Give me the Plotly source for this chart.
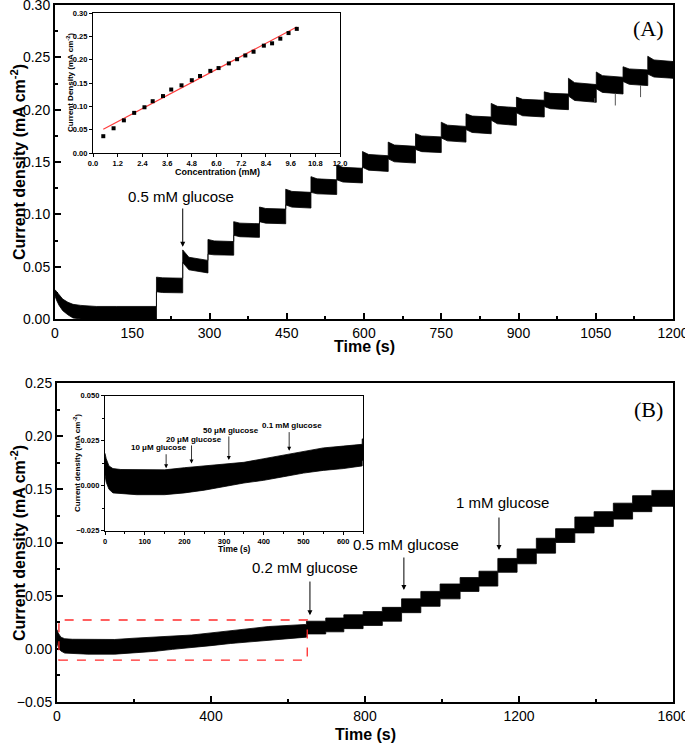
import numpy as np
import plotly.graph_objects as go

W, H = 685, 743
FONT = "Liberation Sans, Arial, sans-serif"

# ---------------- Panel A data ----------------
A0_t = [0, 3, 8, 15, 25, 35, 50, 80, 120, 160, 197]
A0_top = [0.028, 0.026, 0.023, 0.019, 0.016, 0.014, 0.013, 0.012, 0.012, 0.012, 0.012]
A0_bot = [0.022, 0.018, 0.013, 0.008, 0.004, 0.001, 0.0, 0.0, 0.0, 0.0, 0.0]

A_step_t = [197, 248, 297, 347, 397, 448, 497, 547, 597, 647,
            700, 750, 798, 847, 896, 950, 997, 1051, 1103, 1151]
A_top_start = [0.040, 0.066, 0.076, 0.093, 0.107, 0.124, 0.136, 0.147, 0.160, 0.169,
               0.177, 0.188, 0.196, 0.206, 0.212, 0.217, 0.230, 0.236, 0.241, 0.251]
A_top_end = [0.039, 0.056, 0.074, 0.091, 0.105, 0.121, 0.133, 0.144, 0.156, 0.165,
             0.174, 0.184, 0.193, 0.202, 0.209, 0.215, 0.224, 0.231, 0.238, 0.246]
A_bot_start = [0.026, 0.054, 0.062, 0.080, 0.093, 0.109, 0.121, 0.133, 0.145, 0.153,
               0.162, 0.173, 0.181, 0.190, 0.197, 0.203, 0.213, 0.220, 0.227, 0.234]
A_bot_end = [0.025, 0.044, 0.061, 0.078, 0.091, 0.106, 0.119, 0.130, 0.141, 0.149,
             0.159, 0.169, 0.177, 0.185, 0.193, 0.200, 0.207, 0.215, 0.223, 0.230]
A_spike_t = [1048, 1088, 1137]
A_spike_v = [0.211, 0.204, 0.212]
A_END = 1200

# Inset A: calibration points
conc = [0.5, 1.0, 1.5, 2.0, 2.5, 2.9, 3.4, 3.8, 4.3, 4.8, 5.2,
        5.7, 6.1, 6.6, 7.0, 7.4, 7.8, 8.3, 8.7, 9.1, 9.5, 9.9]
conc_j = [0.036, 0.053, 0.070, 0.086, 0.098, 0.111, 0.122, 0.136, 0.145, 0.156, 0.165,
          0.176, 0.182, 0.192, 0.201, 0.209, 0.217, 0.230, 0.235, 0.245, 0.257, 0.266]
FIT_SLOPE = 0.0233
FIT_INTERCEPT = 0.0393
FIT_X = [0.5, 9.9]

# ---------------- Panel B data ----------------
B0_t = [0, 3, 10, 20, 40, 80, 150, 200, 250, 300, 350, 400, 450, 500, 550, 600, 648]
B0_top = [0.018, 0.015, 0.011, 0.0095, 0.009, 0.0088, 0.0088, 0.010, 0.011, 0.012,
          0.013, 0.015, 0.017, 0.019, 0.021, 0.022, 0.023]
B0_bot = [0.006, 0.002, -0.002, -0.004, -0.0045, -0.005, -0.005, -0.004, -0.0025, -0.0005,
          0.0015, 0.003, 0.005, 0.007, 0.0085, 0.0095, 0.011]
B_step_t = [648, 698, 745, 795, 845, 895, 945, 995, 1047, 1096,
            1145, 1195, 1245, 1295, 1345, 1395, 1445, 1495, 1545]
B_top = [0.026, 0.029, 0.032, 0.035, 0.039, 0.047, 0.054, 0.061, 0.067, 0.073,
         0.085, 0.094, 0.104, 0.113, 0.124, 0.129, 0.137, 0.144, 0.149]
B_bot = [0.014, 0.016, 0.019, 0.022, 0.026, 0.034, 0.040, 0.047, 0.054, 0.059,
         0.072, 0.080, 0.090, 0.100, 0.109, 0.115, 0.122, 0.129, 0.134]
B_END = 1600

DECAY_S = 12  # seconds over which the overshoot after each addition relaxes


def envelope(t0, top0, bot0, st, tops, tope, bots, bote, tend):
    ux, uy = list(t0), list(top0)
    lx, ly = list(t0), list(bot0)
    for i, t in enumerate(st):
        t1 = st[i + 1] if i + 1 < len(st) else tend
        if tops[i] != tope[i]:
            tm = t + DECAY_S
            ux += [t, tm, t1]
            uy += [tops[i], tope[i] + 0.3 * (tops[i] - tope[i]), tope[i]]
            lx += [t, tm, t1]
            ly += [bots[i], bote[i] + 0.3 * (bots[i] - bote[i]), bote[i]]
        else:
            ux += [t, t1]
            uy += [tops[i], tope[i]]
            lx += [t, t1]
            ly += [bots[i], bote[i]]
    return ux, uy, lx, ly


def px_x(p):
    return p / W


def px_y(p):
    return 1 - p / H


fig = go.Figure()

# Panel A band
ux, uy, lx, ly = envelope(A0_t, A0_top, A0_bot, A_step_t, A_top_start, A_top_end,
                          A_bot_start, A_bot_end, A_END)
fig.add_trace(go.Scatter(x=ux + lx[::-1], y=uy + ly[::-1], fill="toself",
                         fillcolor="black", mode="lines", line=dict(color="black", width=0.8),
                         xaxis="x", yaxis="y", hoverinfo="skip", showlegend=False))
for t, v in zip(A_spike_t, A_spike_v):
    b = float(np.interp(t, lx, ly))
    fig.add_trace(go.Scatter(x=[t, t], y=[b, v], mode="lines",
                             line=dict(color="#555555", width=1), xaxis="x", yaxis="y",
                             hoverinfo="skip", showlegend=False))

# Inset A
fig.add_trace(go.Scatter(x=FIT_X, y=[FIT_SLOPE * c + FIT_INTERCEPT for c in FIT_X],
                         mode="lines", line=dict(color="#ff3b3b", width=1.2),
                         xaxis="x2", yaxis="y2", showlegend=False))
fig.add_trace(go.Scatter(x=conc, y=conc_j, mode="markers",
                         marker=dict(symbol="square", size=4, color="black"),
                         xaxis="x2", yaxis="y2", showlegend=False))

# Panel B band (main and inset)
ux, uy, lx, ly = envelope(B0_t, B0_top, B0_bot, B_step_t, B_top, B_top, B_bot, B_bot, B_END)
for xa, ya in (("x3", "y3"), ("x4", "y4")):
    fig.add_trace(go.Scatter(x=ux + lx[::-1], y=uy + ly[::-1], fill="toself",
                             fillcolor="black", mode="lines", line=dict(color="black", width=0.8),
                             xaxis=xa, yaxis=ya, hoverinfo="skip", showlegend=False))

main_axis = dict(showline=True, linewidth=2, linecolor="black", mirror=True, ticks="inside",
                 ticklen=6, tickwidth=1.5, tickcolor="black", showgrid=False, zeroline=False,
                 automargin=False, ticklabeloverflow="allow",
                 tickfont=dict(family=FONT, size=14, color="black"))
inset_axis = dict(showline=True, linewidth=1.2, linecolor="black", mirror=True, ticks="outside",
                  ticklen=3, tickwidth=1, tickcolor="black", showgrid=False, zeroline=False,
                  automargin=False, ticklabeloverflow="allow",
                  tickfont=dict(family=FONT, size=7.5, color="black", weight="bold"))

fig.update_layout(
    template="none",
    width=W, height=H, margin=dict(l=0, r=0, t=0, b=0, autoexpand=False),
    paper_bgcolor="white", plot_bgcolor="white", showlegend=False,
    xaxis=dict(main_axis, domain=[px_x(55), px_x(673)], range=[0, 1200], dtick=150,
               minor=dict(dtick=75, ticks="inside", ticklen=3, tickcolor="black"),
               anchor="y"),
    yaxis=dict(main_axis, domain=[px_y(319), px_y(5)], range=[0, 0.30], dtick=0.05,
               tickformat=".2f",
               minor=dict(dtick=0.025, ticks="inside", ticklen=3, tickcolor="black"),
               anchor="x"),
    xaxis2=dict(inset_axis, domain=[px_x(93), px_x(340)], range=[0, 12], dtick=1.2,
                tickformat=".1f", anchor="y2"),
    yaxis2=dict(inset_axis, domain=[px_y(153), px_y(13)], range=[0, 0.30], dtick=0.05,
                tickformat=".2f", anchor="x2"),
    xaxis3=dict(main_axis, domain=[px_x(57), px_x(673)], range=[0, 1600], dtick=400,
                minor=dict(dtick=200, ticks="inside", ticklen=3, tickcolor="black"),
                anchor="y3"),
    yaxis3=dict(main_axis, domain=[px_y(702), px_y(383)], range=[-0.05, 0.25], dtick=0.05,
                tickformat=".2f",
                minor=dict(dtick=0.025, ticks="inside", ticklen=3, tickcolor="black"),
                anchor="x3"),
    xaxis4=dict(inset_axis, domain=[px_x(105), px_x(363)], range=[0, 650], dtick=100,
                minor=dict(dtick=50, ticks="outside", ticklen=2, tickcolor="black"),
                anchor="y4"),
    yaxis4=dict(inset_axis, domain=[px_y(530.7), px_y(395.7)], range=[-0.025, 0.050],
                dtick=0.025, tickformat=".3f",
                minor=dict(dtick=0.0125, ticks="outside", ticklen=2, tickcolor="black"),
                anchor="x4"),
)

# Red dashed box in B
fig.add_shape(type="rect", xref="x3", yref="y3", x0=5, x1=650, y0=-0.0106, y1=0.0271,
              line=dict(color="#ff2a2a", width=1.3, dash="dash"))

ann = []


def ptext(text, x, y, size, bold=True, angle=0, family=FONT):
    ann.append(dict(text=text, x=px_x(x), y=px_y(y), xref="paper", yref="paper",
                    showarrow=False, textangle=angle, xanchor="center", yanchor="middle",
                    font=dict(family=family, size=size, color="black",
                              weight="bold" if bold else "normal")))


YT = "Current density (mA cm<sup>-2</sup>)"
ptext(YT, 18, 162, 16, angle=-90)
ptext(YT, 18, 543, 16, angle=-90)
ptext("Time (s)", 364, 347, 16)
ptext("Time (s)", 365, 734, 16)
ptext("(A)", 648, 29, 22, bold=False, family="Liberation Serif, Times New Roman, serif")
ptext("(B)", 648, 409, 22, bold=False, family="Liberation Serif, Times New Roman, serif")
# inset titles
ptext("Current Density (mA cm<sup>-2</sup>)", 70, 83, 8, angle=-90)
ptext("Concentration (mM)", 217, 172, 9)
ptext("Current density (mA cm<sup>-2</sup>)", 77, 463, 8, angle=-90)
ptext("Time (s)", 234, 549, 8.5)


def arrow(xr, yr, t, tip, tail, width=1.0):
    ann.append(dict(x=t, y=tip, ax=t, ay=tail, xref=xr, yref=yr, axref=xr, ayref=yr,
                    text="", showarrow=True, arrowhead=2, arrowsize=1, arrowwidth=width,
                    arrowcolor="black"))


def dtext(xr, yr, text, t, v, size, bold=False):
    ann.append(dict(x=t, y=v, xref=xr, yref=yr, text=text, showarrow=False,
                    xanchor="center", yanchor="middle",
                    font=dict(family=FONT, size=size, color="black",
                              weight="bold" if bold else "normal")))


# Panel A annotation
dtext("x", "y", "0.5 mM glucose", 245, 0.1175, 15)
arrow("x", "y", 248, 0.069, 0.107)

# Panel B annotations
dtext("x3", "y3", "0.2 mM glucose", 644, 0.0769, 15)
arrow("x3", "y3", 657, 0.0317, 0.0647)
dtext("x3", "y3", "0.5 mM glucose", 906, 0.0985, 15)
arrow("x3", "y3", 901, 0.0553, 0.0873)
dtext("x3", "y3", "1 mM glucose", 1156, 0.1374, 15)
arrow("x3", "y3", 1148, 0.0929, 0.1249)

# Inset B annotations
dtext("x4", "y4", "10 μM glucose", 135, 0.0213, 8, bold=True)
arrow("x4", "y4", 154, 0.0097, 0.0183, 0.8)
dtext("x4", "y4", "20 μM glucose", 223, 0.0259, 8, bold=True)
arrow("x4", "y4", 218, 0.0124, 0.0232, 0.8)
dtext("x4", "y4", "50 μM glucose", 318, 0.0309, 8, bold=True)
arrow("x4", "y4", 312, 0.0143, 0.0282, 0.8)
dtext("x4", "y4", "0.1 mM glucose", 472, 0.0337, 8, bold=True)
arrow("x4", "y4", 464, 0.0194, 0.0306, 0.8)

fig.update_layout(annotations=ann)
fig.write_html("out.html", config={"displayModeBar": False},
               post_script="document.body.style.margin='0';document.body.style.padding='0';")
